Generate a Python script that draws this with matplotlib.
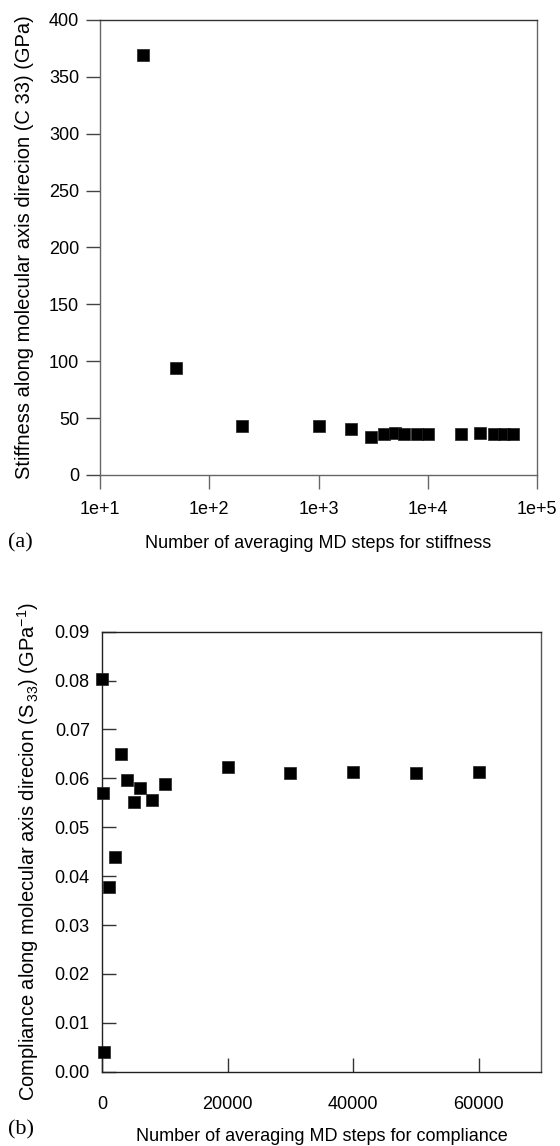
import matplotlib
matplotlib.use("Agg")
import matplotlib.pyplot as plt
from matplotlib.ticker import FixedLocator, FixedFormatter, NullLocator

plt.rcParams['font.family'] = ['Liberation Sans', 'DejaVu Sans']
plt.rcParams['mathtext.fontset'] = 'custom'
plt.rcParams['mathtext.rm'] = 'Liberation Sans'
plt.rcParams['mathtext.it'] = 'Liberation Sans:italic'
plt.rcParams['font.size'] = 13

# averaging window (MD steps)
steps_c = [25, 50, 200, 1000, 2000, 3000, 4000, 5000, 6000, 8000, 10000,
           20000, 30000, 40000, 50000, 60000]
# C33 stiffness, GPa
stiffness = [369, 94, 43.1, 43, 40.1, 33.7, 35.7, 36.6, 35.7, 35.7, 35.7,
             35.7, 36.6, 36.0, 35.7, 35.7]

steps_s = [25, 50, 200, 1000, 2000, 3000, 4000, 5000, 6000, 8000, 10000,
           20000, 30000, 40000, 50000, 60000]
# S33 compliance, 1/GPa
compliance = [0.0803, 0.0571, 0.0041, 0.0377, 0.0439, 0.0650, 0.0597, 0.0552,
              0.0581, 0.0556, 0.0589, 0.0623, 0.0610, 0.0613, 0.0610, 0.0613]

log_ticks = [1e1, 1e2, 1e3, 1e4, 1e5]
log_tick_labels = ['1e+1', '1e+2', '1e+3', '1e+4', '1e+5']
lin_ticks = [0, 20000, 40000, 60000]
stiff_ticks = [0, 50, 100, 150, 200, 250, 300, 350, 400]
comp_ticks = [0.00, 0.01, 0.02, 0.03, 0.04, 0.05, 0.06, 0.07, 0.08, 0.09]

W, H = 560, 1146
fig = plt.figure(figsize=(W / 100, H / 100), dpi=100)

# (a) stiffness vs averaging steps, log x
ax1 = fig.add_axes([100 / W, 1 - 475 / H, 437 / W, 455 / H])
ax1.plot(steps_c, stiffness, 's', color='black', ms=8, mec='#222222', mew=0.5,
         clip_on=False, zorder=3)
ax1.set_xscale('log')
ax1.set_xlim(10, 1e5)
ax1.set_ylim(0, 400)
ax1.xaxis.set_major_locator(FixedLocator(log_ticks))
ax1.xaxis.set_major_formatter(FixedFormatter(log_tick_labels))
ax1.xaxis.set_minor_locator(NullLocator())
ax1.set_yticks(stiff_ticks)
for s in ax1.spines.values():
    s.set_color('#666666')
    s.set_linewidth(1.0)
ax1.spines['top'].set_color('#333333')
ax1.tick_params(axis='x', direction='out', length=10, width=1.0,
                color='#666666', pad=9)
ax1.tick_params(axis='y', direction='out', length=10, width=1.0,
                color='#444444', pad=5)
ax1.set_xlabel('Number of averaging MD steps for stiffness')
ax1.set_ylabel('Stiffness along molecular axis direcion (C 33) (GPa)',
               fontsize=14.5)
ax1.xaxis.set_label_coords(0.5, -0.132)
ax1.yaxis.set_label_coords(-0.150, 0.5)
fig.text(8 / W, 1 - 543 / H, '(a)', family=['Liberation Serif', 'DejaVu Serif'],
         fontsize=16, va='center', ha='left')

# (b) compliance vs averaging steps, linear x
ax2 = fig.add_axes([102.3 / W, 1 - 1071.7 / H, 439 / W, 440 / H])
ax2.plot(steps_s, compliance, 's', color='black', ms=8.5, mec='#222222', mew=0.5,
         clip_on=False, zorder=3)
ax2.set_xlim(0, 70000)
ax2.set_ylim(0, 0.09)
ax2.set_xticks(lin_ticks)
ax2.set_yticks(comp_ticks)
ax2.set_yticklabels(['%.2f' % v for v in comp_ticks])
for s in ax2.spines.values():
    s.set_color('#222222')
    s.set_linewidth(1.0)
ax2.spines['right'].set_color('#555555')
ax2.tick_params(axis='both', direction='in', length=10, width=1.0, color='#333333')
ax2.tick_params(axis='x', pad=17.5)
ax2.tick_params(axis='y', pad=9)
ax2.set_xlabel('Number of averaging MD steps for compliance')
ax2.set_ylabel(r'Compliance along molecular axis direcion (S$_{\,33}$) (GPa$^{-1}$)',
               fontsize=14.5)
ax2.xaxis.set_label_coords(0.5, -0.128)
ax2.yaxis.set_label_coords(-0.140, 0.5)
fig.text(8 / W, 1 - 1130 / H, '(b)', family=['Liberation Serif', 'DejaVu Serif'],
         fontsize=16, va='center', ha='left')

fig.savefig('out.png', dpi=100)
